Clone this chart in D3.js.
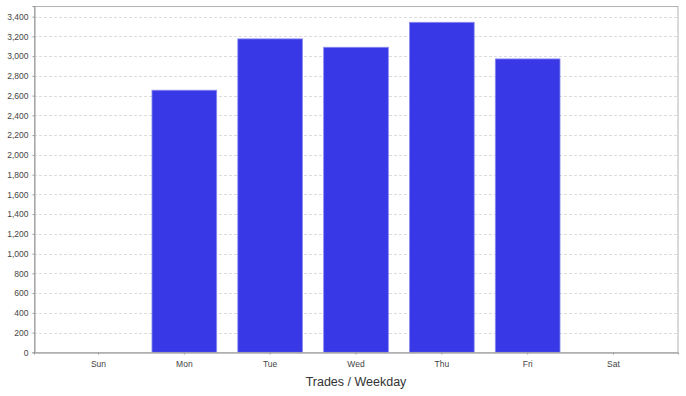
<!DOCTYPE html>
<html>
<head>
<meta charset="utf-8">
<script src="https://cdn.jsdelivr.net/npm/d3@7"></script>
<style>
  html, body { margin: 0; padding: 0; background: #fff; }
  svg { display: block; }
</style>
</head>
<body>
<svg id="chart" width="686" height="396"></svg>
<script>
const categories = ["Sun", "Mon", "Tue", "Wed", "Thu", "Fri", "Sat"];
const trades = [0, 2655, 3175, 3090, 3343, 2972, 0];
const yTicks = [0, 200, 400, 600, 800, 1000, 1200, 1400, 1600, 1800, 2000, 2200, 2400, 2600, 2800, 3000, 3200, 3400];
const axisTitle = "Trades / Weekday";

(function () {
const svg = d3.select("#chart");
const pL = 34, pR = 678, pT = 6, pB = 352.3;

const x = d3.scaleBand().domain(categories).range([pL, pR])
  .paddingInner(0.246).paddingOuter(0.3745);
const y = d3.scaleLinear().domain([0, 3508]).range([pB, pT]);

// gridlines
svg.append("g").selectAll("line").data(yTicks.filter(d => d > 0)).join("line")
  .attr("x1", pL).attr("x2", pR)
  .attr("y1", d => Math.round(y(d)) + 0.5).attr("y2", d => Math.round(y(d)) + 0.5)
  .attr("stroke", "#dcdcdc").attr("stroke-width", 1).attr("stroke-dasharray", "3,2");

// bars
const data = categories.map((c, i) => ({ c, v: trades[i] }));
svg.append("g").selectAll("rect").data(data.filter(d => d.v > 0)).join("rect")
  .attr("x", d => x(d.c))
  .attr("y", d => y(d.v))
  .attr("width", x.bandwidth())
  .attr("height", d => pB - y(d.v))
  .attr("fill", "#3838e6")
  .attr("stroke", "#8c8cf0")
  .attr("stroke-width", 0.8);

// plot border
svg.append("rect").attr("x", pL + 0.5).attr("y", pT + 0.5)
  .attr("width", pR - pL - 0.5).attr("height", pB - pT)
  .attr("fill", "none").attr("stroke", "#b4b4b4").attr("stroke-width", 1);

// y axis
const yAxis = d3.axisLeft(y).tickValues(yTicks).tickSize(2).tickPadding(4)
  .tickFormat(d3.format(","));
const gy = svg.append("g").attr("transform", `translate(${pL + 0.5},0)`).call(yAxis);
gy.select(".domain").attr("stroke", "#999");
gy.selectAll(".tick line").attr("stroke", "#999");
gy.selectAll(".tick text").attr("font-family", "'Liberation Sans', Arial, sans-serif")
  .attr("font-size", 8.5).attr("fill", "#444");

// x axis
const xAxis = d3.axisBottom(x).tickSize(2).tickPadding(6);
const gx = svg.append("g").attr("transform", `translate(0,${Math.round(pB) + 0.5})`).call(xAxis);
gx.select(".domain").attr("stroke", "#999");
gx.selectAll(".tick line").attr("stroke", "#999");
gx.selectAll(".tick text").attr("font-family", "'Liberation Sans', Arial, sans-serif")
  .attr("font-size", 8.5).attr("fill", "#444");

// axis title
svg.append("text").attr("x", (pL + pR) / 2).attr("y", 386)
  .attr("text-anchor", "middle")
  .attr("font-family", "'Liberation Sans', Arial, sans-serif")
  .attr("font-size", 12.5).attr("fill", "#333")
  .text(axisTitle);
})();
</script>
</body>
</html>
